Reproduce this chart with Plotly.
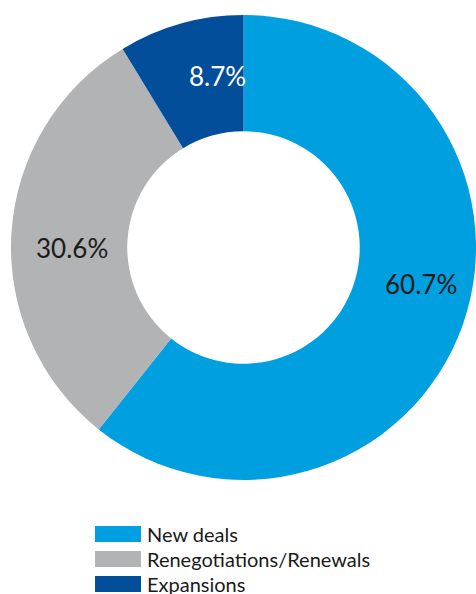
import plotly.graph_objects as go

# Deal mix by type
labels = ["New deals", "Renegotiations/Renewals", "Expansions"]
values = [60.7, 30.6, 8.7]
colors = ["#009FE0", "#B2B3B5", "#034E9A"]
label_colors = ["#1A1A1A", "#1A1A1A", "#FFFFFF"]

W, H = 476, 594
FONT = "Lato"

fig = go.Figure(
    go.Pie(
        labels=labels,
        values=values,
        hole=0.5,
        sort=False,
        direction="clockwise",
        rotation=0,
        marker=dict(colors=colors, line=dict(width=0)),
        textinfo="none",
        hoverinfo="label+percent",
        showlegend=False,
        domain=dict(x=[11 / W, 1.0], y=[1 - 481 / H, 1 - 14 / H]),
    )
)

# Percentage labels placed within each ring segment (paper pixels)
label_pos = [(421, 284), (72, 248), (217, 76)]
annotations = []
for v, c, (px, py) in zip(values, label_colors, label_pos):
    annotations.append(
        dict(
            x=px / W, y=1 - py / H, xref="paper", yref="paper",
            text=f"{v:.1f}%", showarrow=False,
            font=dict(family=FONT, size=26, color=c),
            xanchor="center", yanchor="middle",
        )
    )

# Legend with wide swatches
shapes = []
row_tops = [526, 551, 576]
for lab, col, top in zip(labels, colors, row_tops):
    shapes.append(
        dict(
            type="rect", xref="paper", yref="paper",
            x0=95 / W, x1=141 / W, y0=1 - (top + 16) / H, y1=1 - top / H,
            fillcolor=col, line=dict(width=0),
        )
    )
    annotations.append(
        dict(
            x=145 / W, y=1 - (top + 8) / H, xref="paper", yref="paper",
            text=lab, showarrow=False,
            font=dict(family=FONT, size=20, color="#1A1A1A"),
            xanchor="left", yanchor="middle",
        )
    )

fig.update_layout(
    width=W, height=H,
    margin=dict(l=0, r=0, t=0, b=0),
    paper_bgcolor="white",
    plot_bgcolor="white",
    annotations=annotations,
    shapes=shapes,
)

fig.write_html("out.html")
